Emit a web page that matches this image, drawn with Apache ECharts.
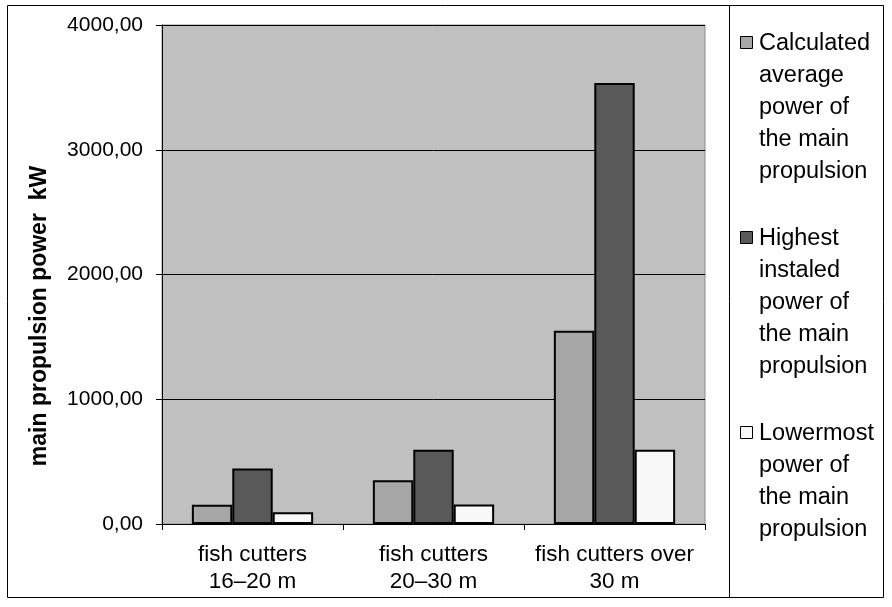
<!DOCTYPE html>
<html>
<head>
<meta charset="utf-8">
<script src="https://cdn.jsdelivr.net/npm/echarts@6/dist/echarts.min.js"></script>
<style>
  html, body { margin: 0; padding: 0; background: #ffffff; }
  #chart { width: 892px; height: 607px; }
</style>
</head>
<body>
<div id="chart"></div>
<script>
// Vessel groups on the x axis
const categories = ['fish cutters\n16–20 m', 'fish cutters\n20–30 m', 'fish cutters over\n30 m'];

// Main propulsion power, kW
const averagePower = [155, 350, 1550];
const highestPower = [445, 595, 3535];
const lowestPower = [95, 157, 595];

const seriesNames = [
  'Calculated\naverage\npower of\nthe main\npropulsion',
  'Highest\ninstaled\npower of\nthe main\npropulsion',
  'Lowermost\npower of\nthe main\npropulsion'
];
const seriesColors = ['#a6a6a6', '#595959', '#f8f8f8'];

const yTicks = { min: 0, max: 4000, interval: 1000 };

const font = 'Liberation Sans, Arial, Helvetica, sans-serif';

const chart = echarts.init(document.getElementById('chart'), null, { renderer: 'canvas' });

function barSeries(i, data) {
  return {
    name: seriesNames[i],
    type: 'bar',
    data: data,
    barGap: '0%',
    barCategoryGap: '33%',
    itemStyle: { color: seriesColors[i], borderColor: '#000000', borderWidth: 2 },
    emphasis: { disabled: true }
  };
}

// Legend panel: square swatch next to the first line of each multi-line name
const legendLineHeight = 32;
const legendBlockGap = 35;
const legendGraphics = [];
let legendY = 28;
seriesNames.forEach(function (name, i) {
  const lines = name.split('\n');
  legendGraphics.push({
    type: 'rect',
    shape: { x: 740.5, y: legendY + 8.5, width: 12, height: 12 },
    style: { fill: seriesColors[i], stroke: '#000000', lineWidth: 1 },
    silent: true
  });
  legendGraphics.push({
    type: 'text',
    x: 759,
    y: legendY,
    style: {
      text: name,
      fontFamily: font,
      fontSize: 23.5,
      lineHeight: legendLineHeight,
      fill: '#000000',
      align: 'left',
      verticalAlign: 'top'
    },
    silent: true
  });
  legendY += lines.length * legendLineHeight + legendBlockGap;
});

chart.setOption({
  animation: false,
  backgroundColor: '#ffffff',
  textStyle: { fontFamily: font },
  grid: {
    left: 162, right: 187, top: 25, bottom: 83,
    show: true,
    backgroundColor: '#c0c0c0',
    borderColor: '#8c8c8c',
    borderWidth: 1
  },
  xAxis: {
    type: 'category',
    data: categories,
    axisLine: { lineStyle: { color: '#000000', width: 1 } },
    axisTick: { show: true, length: 6, lineStyle: { color: '#000000' } },
    axisLabel: {
      interval: 0,
      color: '#000000',
      fontFamily: font,
      fontSize: 22.5,
      lineHeight: 27,
      margin: 17
    },
    splitLine: { show: false }
  },
  yAxis: {
    type: 'value',
    min: yTicks.min,
    max: yTicks.max,
    interval: yTicks.interval,
    axisLine: { show: true, lineStyle: { color: '#000000', width: 1 } },
    axisTick: { show: true, length: 6, lineStyle: { color: '#000000' } },
    axisLabel: {
      color: '#000000',
      fontFamily: font,
      fontSize: 21,
      margin: 19,
      formatter: function (v) { return v.toFixed(2).replace('.', ','); }
    },
    splitLine: { show: true, lineStyle: { color: '#000000', width: 1 } }
  },
  series: [
    barSeries(0, averagePower),
    barSeries(1, highestPower),
    barSeries(2, lowestPower)
  ],
  graphic: [
    {
      type: 'rect',
      shape: { x: 7.5, y: 5.5, width: 876, height: 592 },
      style: { fill: null, stroke: '#000000', lineWidth: 1 },
      silent: true
    },
    {
      type: 'line',
      shape: { x1: 729.5, y1: 5.5, x2: 729.5, y2: 597.5 },
      style: { stroke: '#000000', lineWidth: 1 },
      silent: true
    },
    {
      type: 'text',
      x: 40,
      y: 316,
      rotation: Math.PI / 2,
      style: {
        text: 'main propulsion power  kW',
        fontFamily: font,
        fontSize: 23,
        fontWeight: 'bold',
        fill: '#000000',
        align: 'center',
        verticalAlign: 'middle'
      },
      silent: true
    }
  ].concat(legendGraphics)
});
</script>
</body>
</html>
